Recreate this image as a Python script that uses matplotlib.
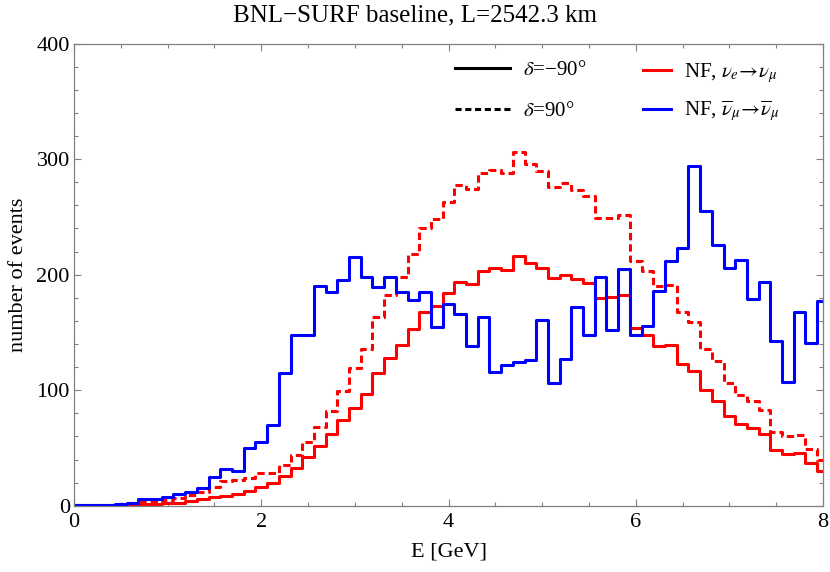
import numpy as np
import matplotlib
matplotlib.use("Agg")
import matplotlib.pyplot as plt
from matplotlib.lines import Line2D

plt.rcParams['font.family'] = ['Liberation Serif', 'DejaVu Serif']
plt.rcParams['mathtext.fontset'] = 'stix'

# bin centres (GeV), bin width 0.125
E = np.arange(0, 65) * 0.125

# NF, nu_e -> nu_mu, delta = -90 deg
red_solid = [0.2, 0.3, 0.5, 0.7, 1.0, 1.2, 1.4, 1.6, 2.0, 2.6,
             4, 5.5, 7.3, 8.4, 10, 12.5, 16.5, 19.4, 26, 33,
             42, 52, 62, 74, 85, 97, 115, 128, 139, 153,
             168, 173, 184, 194, 192, 203, 206, 204, 216, 210,
             206, 197, 200, 196, 193, 180, 181, 182, 154, 148,
             138, 139, 123, 117, 100, 91, 78, 71, 67, 62,
             48, 45, 46, 37, 30]

# NF, nu_e -> nu_mu, delta = +90 deg
red_dashed = [0.3, 0.5, 0.8, 1, 1.5, 2, 3, 3.5, 5, 7,
              9, 12, 16, 21, 22, 24, 28, 28, 35, 44,
              55, 68, 82, 99, 119, 136, 163, 182, 198, 218,
              240, 248, 263, 278, 274, 288, 291, 288, 306, 296,
              290, 276, 279, 273, 268, 249, 249, 252, 212, 203,
              190, 191, 168, 159, 136, 125, 106, 96, 91, 83,
              64, 60, 61, 49, 40]

# NF, nubar_mu -> nubar_mu
blue = [0.3, 0.5, 0.8, 1, 1.5, 2.5, 5.5, 5.5, 7.8, 9.8,
        12, 15, 24.6, 31.5, 30, 49.7, 55, 70, 115, 148,
        148, 190, 185, 195, 215, 198, 189, 198, 185, 178,
        185, 155, 175, 166, 138, 163, 116, 122, 124, 126,
        161, 106, 127, 172, 148, 198, 152, 205, 148, 156,
        186, 212, 223, 294, 255, 226, 206, 213, 179, 194,
        143, 107, 168, 141, 177]

fig = plt.figure(figsize=(8.30, 5.72), dpi=100)
ax = fig.add_axes([74/830, 1 - 505.7/572, 749/830, 462/572])

lw = 2.2
dash = (0, (2.4, 1.3))
ax.step(E, red_dashed, where='mid', color=(1, 0, 0), lw=lw, linestyle=dash)
ax.step(E, red_solid, where='mid', color=(1, 0, 0), lw=lw)
ax.step(E, blue, where='mid', color=(0, 0, 1), lw=lw)

ax.set_xlim(0, 8)
ax.set_ylim(0, 400)
ax.set_xticks([0, 2, 4, 6, 8])
ax.set_xticks(np.arange(0, 8.01, 0.5), minor=True)
ax.set_yticks([0, 100, 200, 300, 400])
ax.set_yticks(np.arange(0, 401, 20), minor=True)

gray = '#808080'
for s in ax.spines.values():
    s.set_color(gray)
    s.set_linewidth(0.9)
ax.tick_params(which='both', direction='in', top=True, right=True,
               color=gray, labelsize=16, width=0.8)
ax.tick_params(which='major', length=5)
ax.tick_params(which='minor', length=3)
ax.tick_params(axis='x', pad=5)
ax.tick_params(axis='y', pad=3)

ax.set_xlabel('E [GeV]', fontsize=16, labelpad=8)
ax.set_ylabel('number of events', fontsize=16, labelpad=6)
fig.text(0.5, 1 - 15/572, 'BNL\u2212SURF baseline, L=2542.3 km',
         ha='center', va='center', fontsize=18)

h1 = [Line2D([], [], color='black', lw=lw),
      Line2D([], [], color='black', lw=lw, linestyle=(0, (2.0, 1.2)))]
l1 = ax.legend(h1, ['$\\delta$=\u221290°', '$\\delta$=90°'],
               loc='upper left', bbox_to_anchor=(0.5087, 0.963), frameon=False,
               handlelength=2.65, handletextpad=0.6, labelspacing=1.0,
               fontsize=15, borderpad=0, borderaxespad=0)
ax.add_artist(l1)
h2 = [Line2D([], [], color=(1, 0, 0), lw=lw),
      Line2D([], [], color=(0, 0, 1), lw=lw)]
ax.legend(h2, [r'NF, $\nu_e\!\rightarrow\!\nu_\mu$',
               r'NF, $\overline{\nu}_\mu\!\rightarrow\!\overline{\nu}_\mu$'],
          loc='upper left', bbox_to_anchor=(0.7597, 0.963), frameon=False,
          handlelength=1.35, handletextpad=0.6, labelspacing=0.7,
          fontsize=15, borderpad=0, borderaxespad=0)

fig.savefig('out.png', dpi=100)
